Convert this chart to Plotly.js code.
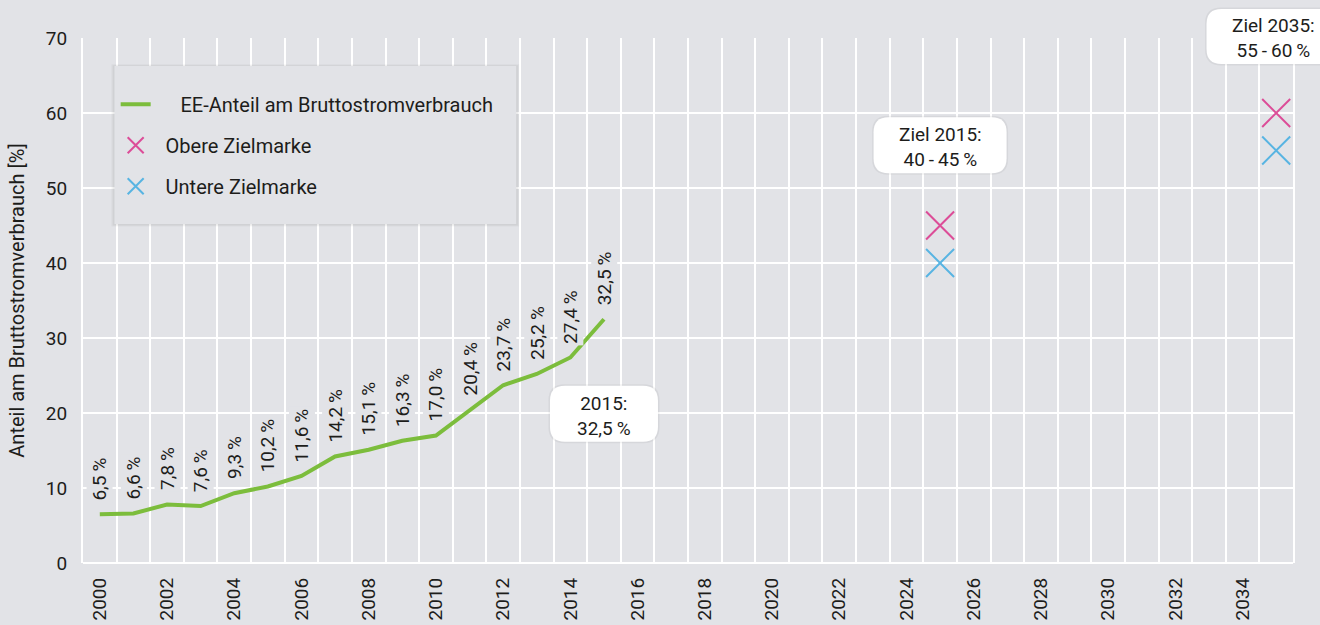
<!DOCTYPE html>
<html>
<head>
<meta charset="utf-8">
<script src="https://cdn.plot.ly/plotly-3.0.1.min.js"></script>
<style>html,body{margin:0;padding:0;background:#e2e3e7;}#chart{width:1320px;height:625px;}</style>
</head>
<body>
<div id="chart"></div>
<script>
// ---- data ----
var years = [2000, 2001, 2002, 2003, 2004, 2005, 2006, 2007, 2008, 2009, 2010, 2011, 2012, 2013, 2014, 2015];
var eeShare = [6.5, 6.6, 7.8, 7.6, 9.3, 10.2, 11.6, 14.2, 15.1, 16.3, 17.0, 20.4, 23.7, 25.2, 27.4, 32.5];
var targetYears = [2025, 2035];
var upperTarget = [45, 60];
var lowerTarget = [40, 55];
var xTickVals = [2000, 2002, 2004, 2006, 2008, 2010, 2012, 2014, 2016, 2018, 2020, 2022, 2024, 2026, 2028, 2030, 2032, 2034];
var xTickText = ['2000', '2002', '2004', '2006', '2008', '2010', '2012', '2014', '2016', '2018', '2020', '2022', '2024', '2026', '2028', '2030', '2032', '2034'];
var yTickVals = [0, 10, 20, 30, 40, 50, 60, 70];
var seriesNames = ['EE-Anteil am Bruttostromverbrauch', 'Obere Zielmarke', 'Untere Zielmarke'];
var calloutTexts = [
  '2015:<br>32,5\u2009%',
  'Ziel 2015:<br>40\u2009-\u200945\u2009%',
  'Ziel 2035:<br>55\u2009-\u200960\u2009%'
];

var BG = '#e2e3e7';
var TXT = '#1d1d1b';
var FONT = 'Roboto, "Open Sans", sans-serif';
var GREEN = '#7cbd3c', PINK = '#dc4d98', BLUE = '#58b4e2';

var traces = [
  {x: years, y: eeShare, type: 'scatter', mode: 'lines', name: '\u00a0\u00a0\u00a0\u00a0\u00a0' + seriesNames[0],
   line: {color: GREEN, width: 4}, legendgroup: 'a', hoverinfo: 'x+y'},
  {x: targetYears, y: upperTarget, type: 'scatter', mode: 'markers', name: '\u00a0\u00a0' + seriesNames[1],
   marker: {symbol: 'x-thin', size: 28, color: PINK, line: {color: PINK, width: 2}}, legendgroup: 'b'},
  {x: targetYears, y: lowerTarget, type: 'scatter', mode: 'markers', name: '\u00a0\u00a0' + seriesNames[2],
   marker: {symbol: 'x-thin', size: 28, color: BLUE, line: {color: BLUE, width: 2}}, legendgroup: 'c'}
];

// data labels
var annotations = years.map(function (yr, i) {
  return {
    x: yr, y: eeShare[i], xref: 'x', yref: 'y',
    text: eeShare[i].toFixed(1).replace('.', ',') + '\u2009%',
    textangle: -90, showarrow: false, xanchor: 'center', yanchor: 'bottom', yshift: 12,
    bgcolor: BG, borderpad: 1,
    font: {family: FONT, size: 19, color: TXT}
  };
});

function roundRect(w, h, r) {
  var x0 = -w / 2, x1 = w / 2, y0 = -h / 2, y1 = h / 2;
  return 'M' + (x0 + r) + ',' + y0 + ' H' + (x1 - r) + ' Q' + x1 + ',' + y0 + ' ' + x1 + ',' + (y0 + r) +
    ' V' + (y1 - r) + ' Q' + x1 + ',' + y1 + ' ' + (x1 - r) + ',' + y1 + ' H' + (x0 + r) +
    ' Q' + x0 + ',' + y1 + ' ' + x0 + ',' + (y1 - r) + ' V' + (y0 + r) + ' Q' + x0 + ',' + y0 + ' ' + (x0 + r) + ',' + y0 + ' Z';
}

// callout boxes: [xref, x, yref, y, width, height]
var callouts = [
  ['x', 2015, 'y', 19.9, 108, 56],
  ['x', 2025, 'y', 55.7, 133, 56],
  ['paper', 0.9835, 'paper', 1.003, 133, 55]
];

var shapes = [];
// legend box shadow + box
shapes.push({type: 'rect', xref: 'paper', yref: 'paper', x0: 0.0235, x1: 0.3605, y0: 0.641, y1: 0.950,
  fillcolor: 'rgba(0,0,0,0.035)', line: {width: 0}, layer: 'above'});
shapes.push({type: 'rect', xref: 'paper', yref: 'paper', x0: 0.0245, x1: 0.3595, y0: 0.643, y1: 0.948,
  fillcolor: 'rgba(0,0,0,0.045)', line: {width: 0}, layer: 'above'});
shapes.push({type: 'rect', xref: 'paper', yref: 'paper', x0: 0.026, x1: 0.358, y0: 0.6457, y1: 0.9467,
  fillcolor: BG, line: {width: 0}, layer: 'above'});

callouts.forEach(function (c, i) {
  shapes.push({type: 'path', xref: c[0], yref: c[2], xsizemode: 'pixel', ysizemode: 'pixel',
    xanchor: c[1], yanchor: c[3], path: roundRect(c[4] + 3, c[5] + 3, 16),
    fillcolor: 'rgba(0,0,0,0.05)', line: {width: 0}, layer: 'above'});
  shapes.push({type: 'path', xref: c[0], yref: c[2], xsizemode: 'pixel', ysizemode: 'pixel',
    xanchor: c[1], yanchor: c[3], path: roundRect(c[4], c[5], 15),
    fillcolor: '#ffffff', line: {width: 0}, layer: 'above'});
  annotations.push({x: c[1], y: c[3], xref: c[0], yref: c[2], text: calloutTexts[i], showarrow: false,
    xanchor: 'center', yanchor: 'middle', align: 'center', yshift: -2,
    font: {family: FONT, size: 19, color: TXT}});
});

var layout = {
  width: 1320, height: 625,
  margin: {l: 82.5, r: 27, t: 38, b: 62, pad: 0},
  paper_bgcolor: BG, plot_bgcolor: BG,
  font: {family: FONT, size: 19, color: TXT},
  showlegend: true,
  legend: {x: 0.027, y: 0.911, xanchor: 'left', yanchor: 'top', bgcolor: 'rgba(0,0,0,0)', borderwidth: 0,
    traceorder: 'grouped', tracegroupgap: 12, font: {family: FONT, size: 20, color: TXT}},
  xaxis: {
    range: [1999.5, 2035.5], tickmode: 'array', tickvals: xTickVals, ticktext: xTickText, tickangle: -90,
    showgrid: false, zeroline: false, showline: false, ticks: '', ticklabelstandoff: 10,
    tickfont: {family: FONT, size: 19, color: TXT},
    minor: {tick0: 1999.5, dtick: 1, showgrid: true, gridcolor: '#ffffff', gridwidth: 2, ticks: ''},
    fixedrange: true
  },
  yaxis: {
    range: [0, 70], tickmode: 'array', tickvals: yTickVals, showgrid: true, gridcolor: '#ffffff', gridwidth: 2,
    zeroline: true, zerolinecolor: '#ffffff', zerolinewidth: 2,
    showline: true, linecolor: '#ffffff', linewidth: 2, mirror: true,
    ticks: '', ticklabelstandoff: 10,
    tickfont: {family: FONT, size: 19, color: TXT},
    title: {text: 'Anteil am Bruttostromverbrauch [%]', font: {family: FONT, size: 20, color: TXT}, standoff: 16},
    fixedrange: true
  },
  shapes: shapes,
  annotations: annotations
};

Plotly.newPlot('chart', traces, layout, {displayModeBar: false, staticPlot: true});
</script>
</body>
</html>
